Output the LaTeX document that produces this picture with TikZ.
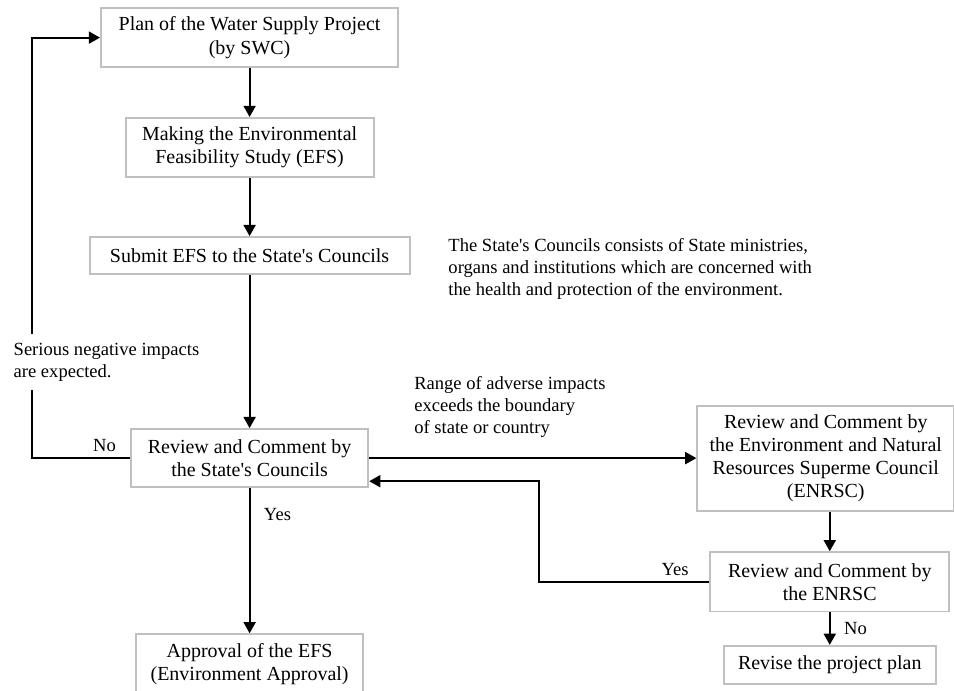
\documentclass[tikz,border=0pt]{standalone}
\usepackage{fontspec}
\setmainfont{Liberation Serif}
\usetikzlibrary{arrows.meta, positioning}
\definecolor{boxline}{RGB}{192,192,192}
\newcommand{\boxfont}{\fontsize{14.2pt}{16.4pt}\selectfont}
\newcommand{\lblfont}{\fontsize{13.2pt}{15.6pt}\selectfont}
\newcommand{\sq}{\textquotesingle}

\begin{document}
\begin{tikzpicture}[
  stage/.style={
    draw=boxline, line width=1.4pt, align=center, font=\boxfont, inner sep=2pt
  },
  arr/.style={-{Triangle[length=0.28cm, width=0.3cm]}, line width=1.4pt},
  lbl/.style={font=\lblfont, align=left, inner sep=1pt}
]
  \useasboundingbox (0,0) rectangle (23.85,-17.25);

  % main column
  \node[stage, minimum width=7.43cm, minimum height=1.48cm] (plan) at (6.24,-0.94)
    {Plan of the Water Supply Project\\(by SWC)};
  \node[stage, minimum width=6.2cm, minimum height=1.48cm, below=1.22cm of plan] (efs)
    {Making the Environmental\\Feasibility Study (EFS)};
  \node[stage, minimum width=8cm, minimum height=0.93cm, below=1.45cm of efs] (submit)
    {Submit EFS to the State\sq s Councils};
  \node[stage, minimum width=5.93cm, minimum height=1.45cm, below=3.82cm of submit] (review)
    {Review and Comment by\\the State\sq s Councils};
  \node[stage, minimum width=5.68cm, minimum height=1.48cm, below=3.63cm of review] (approval)
    {Approval of the EFS\\(Environment Approval)};

  % ENRSC column
  \node[stage, minimum width=6.42cm, minimum height=2.63cm, right=8.18cm of review] (enrsc)
    {Review and Comment by\\the Environment and Natural\\Resources Superme Council\\(ENRSC)};
  \node[stage, minimum width=5.98cm, minimum height=1.48cm, below=0.99cm of enrsc, xshift=0.1cm] (enrscreview)
    {Review and Comment by\\the ENRSC};
  \node[stage, minimum width=5.3cm, minimum height=0.95cm, below=0.81cm of enrscreview] (revise)
    {Revise the project plan};

  \node[lbl, anchor=west] (note) at (11.17,-6.73)
    {The State\sq s Councils consists of State ministries,\\organs and institutions which are concerned with\\the health and protection of the environment.};

  \coordinate (loop) at (0.8,0);
  \coordinate (turn) at (13.48,-12.03);

  \draw[arr] (plan) -- (efs);
  \draw[arr] (efs) -- (submit);
  \draw[arr] (submit) -- (review);
  \draw[arr] (review) -- node[lbl, right=0.3cm, pos=0.18]{Yes} (approval);
  \draw[arr] (review.west) -- node[lbl, above=3pt, pos=0.26]{No} (review.west -| loop) |- (plan.west);
  \draw[arr] (review) -- node[lbl, above=0.45cm, pos=0.43]
    {Range of adverse impacts\\exceeds the boundary\\of state or country} (enrsc);
  \draw[arr] (enrscreview.north |- enrsc.south) -- (enrscreview.north);
  \draw[arr] (enrscreview) -- node[lbl, right=0.3cm]{No} (revise);
  \draw[arr] (enrscreview.west) -| node[lbl, above=3pt, pos=0.1]{Yes} (turn) -- (turn -| review.east);

  \node[lbl, anchor=west, fill=white, inner ysep=6pt] (serious) at (0.3,-9.05)
    {Serious negative impacts\\are expected.};
\end{tikzpicture}
\end{document}
